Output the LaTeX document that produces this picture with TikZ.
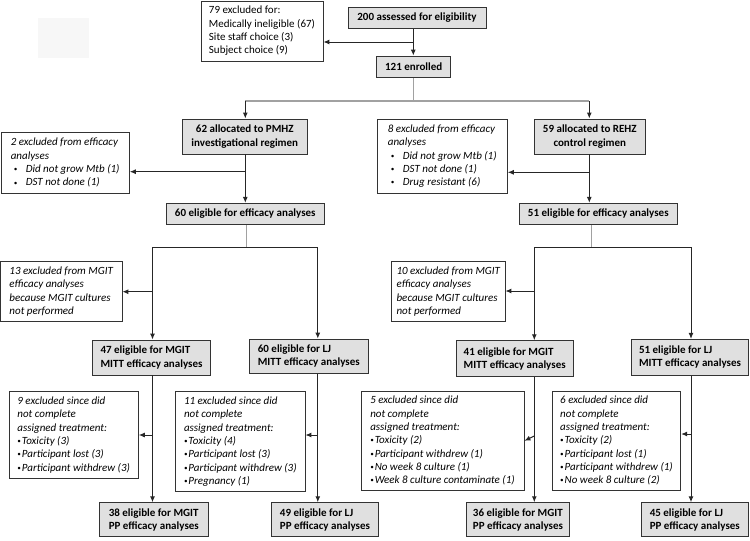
\documentclass[tikz,border=0pt]{standalone}
\usepackage{fontspec}
\setmainfont{Carlito}
\usetikzlibrary{arrows.meta}
\newcommand{\tabbul}{\makebox[15pt][l]{\hspace{3pt}\raisebox{0.8pt}{\scriptsize\textbullet}}}
\newcommand{\smbul}{\raisebox{1pt}{\scriptsize\textbullet}\hspace{1pt}}

\begin{document}
\begin{tikzpicture}[x = 1pt, y = -1pt,
  mainbox/.style = {draw = black!80, line width = 0.9pt, fill = black!12, inner sep = 2pt, font = \fontsize{11}{13.3}\selectfont\bfseries},
  exclbox/.style = {draw = black!80, line width = 0.9pt, fill = white, inner sep = 2pt, align = left, font = \fontsize{11}{13.3}\selectfont\itshape},
  arr/.style = {line width = 1pt, draw = black!85, -{Latex[length = 6pt, width = 5pt]}},
  link/.style = {line width = 1pt, draw = black!85},
  stem/.style = {line width = 1.3pt, draw = black!37}]
\useasboundingbox (0, 0) rectangle (750, 541);
\fill[black!3] (38, 18) rectangle (89, 58);
\node[mainbox, minimum width = 138pt, minimum height = 21pt] (assess) at (417, 17.8) {200 assessed for eligibility};
\node[mainbox, minimum width = 74pt, minimum height = 21.3pt] (enrolled) at (413.7, 66.7) {121 enrolled};
\node[exclbox, font = \fontsize{11}{13.3}\selectfont, minimum width = 122pt, minimum height = 60pt] (excl79) at (262, 31) {79 excluded for:\\Medically ineligible (67)\\Site staff choice (3)\\Subject choice (9)};
\node[mainbox, align = center, minimum width = 124.3pt, minimum height = 35pt] (alloc62) at (244.8, 136.5) {62 allocated to PMHZ\\investigational regimen};
\node[mainbox, align = center, minimum width = 111pt, minimum height = 35pt] (alloc59) at (589.8, 136.5) {59 allocated to REHZ\\control regimen};
\node[exclbox, minimum width = 128.3pt, minimum height = 61pt] (excl2) at (65.2, 162.8) {2 excluded from efficacy\\analyses\\\tabbul Did not grow Mtb (1)\\\tabbul DST not done (1)};
\node[exclbox, minimum width = 130pt, minimum height = 74.3pt] (excl8) at (442.3, 156.2) {8 excluded from efficacy\\analyses\\\tabbul Did not grow Mtb (1)\\\tabbul DST not done (1)\\\tabbul Drug resistant (6)};
\node[mainbox, minimum width = 157.3pt, minimum height = 21pt] (elig60) at (245.3, 213.8) {60 eligible for efficacy analyses};
\node[mainbox, minimum width = 158pt, minimum height = 21pt] (elig51) at (598.3, 213.8) {51 eligible for efficacy analyses};
\node[exclbox, minimum width = 121.5pt, minimum height = 60pt] (excl13) at (61.2, 291.7) {13 excluded from MGIT\\efficacy analyses\\because MGIT cultures\\not performed};
\node[exclbox, minimum width = 113.3pt, minimum height = 60pt] (excl10) at (448.3, 291.7) {10 excluded from MGIT\\efficacy analyses\\because MGIT cultures\\not performed};
\node[mainbox, align = left, minimum width = 118.4pt, minimum height = 35pt] (mgit47) at (151.5, 357.5) {47 eligible for MGIT\\MITT efficacy analyses};
\node[mainbox, align = left, minimum width = 119pt, minimum height = 34.3pt] (lj60) at (308.8, 356.2) {60 eligible for LJ\\MITT efficacy analyses};
\node[mainbox, align = left, minimum width = 117.3pt, minimum height = 36pt] (mgit41) at (514.7, 358.7) {41 eligible for MGIT\\MITT efficacy analyses};
\node[mainbox, align = left, minimum width = 116.6pt, minimum height = 35.7pt] (lj51) at (690, 357.2) {51 eligible for LJ\\MITT efficacy analyses};
\node[exclbox, minimum width = 129.3pt, minimum height = 86.6pt] (excl9) at (73.7, 435) {9 excluded since did\\not complete\\assigned treatment:\\\smbul Toxicity (3)\\\smbul Participant lost (3)\\\smbul Participant withdrew (3)};
\node[exclbox, minimum width = 129.3pt, minimum height = 100pt] (excl11) at (240.3, 441.7) {11 excluded since did\\not complete\\assigned treatment:\\\smbul Toxicity (4)\\\smbul Participant lost (3)\\\smbul Participant withdrew (3)\\\smbul Pregnancy (1)};
\node[exclbox, minimum width = 163pt, minimum height = 98.3pt] (excl5) at (442.5, 440.8) {5 excluded since did\\not complete\\assigned treatment:\\\smbul Toxicity (2)\\\smbul Participant withdrew (1)\\\smbul No week 8 culture (1)\\\smbul Week 8 culture contaminate (1)};
\node[exclbox, minimum width = 128.4pt, minimum height = 98.3pt] (excl6) at (616.5, 440.8) {6 excluded since did\\not complete\\assigned treatment:\\\smbul Toxicity (2)\\\smbul Participant lost (1)\\\smbul Participant withdrew (1)\\\smbul No week 8 culture (2)};
\node[mainbox, align = left, minimum width = 109pt, minimum height = 34pt] (pp38) at (153.8, 519.7) {38 eligible for MGIT\\PP efficacy analyses};
\node[mainbox, align = left, minimum width = 106.6pt, minimum height = 34pt] (pp49) at (325, 519.7) {49 eligible for LJ\\PP efficacy analyses};
\node[mainbox, align = left, minimum width = 102.6pt, minimum height = 34pt] (pp36) at (518, 519.7) {36 eligible for MGIT\\PP efficacy analyses};
\node[mainbox, align = left, minimum width = 106.3pt, minimum height = 34pt] (pp45) at (694.8, 519.7) {45 eligible for LJ\\PP efficacy analyses};
\coordinate (t1) at (413.3, 42);
\coordinate (s1) at (413.3, 101);
\coordinate (sL) at (245.3, 101);
\coordinate (sR) at (589.3, 101);
\coordinate (t2) at (245.3, 171.7);
\coordinate (t8) at (589.3, 172.3);
\coordinate (s2) at (246.7, 247.3);
\coordinate (a47) at (152.5, 247.3);
\coordinate (a60) at (317.8, 247.3);
\coordinate (t13) at (152.5, 291.7);
\coordinate (s3) at (591.7, 247.3);
\coordinate (a41) at (534.3, 247.3);
\coordinate (a51) at (691, 247.3);
\coordinate (t10) at (534.3, 291);
\coordinate (t9) at (152.5, 435);
\coordinate (t11) at (317.8, 435);
\coordinate (t5) at (534.3, 436);
\coordinate (t6) at (691, 434);
\draw[arr] (assess.south -| t1) -- (enrolled.north -| t1);
\draw[arr] (t1) -- (t1 -| excl79.east);
\draw[stem] (enrolled.south -| s1) -- (s1);
\draw[stem] (sL) -- (sR);
\draw[arr] (sL) -- (sL |- alloc62.north);
\draw[arr] (sR) -- (sR |- alloc59.north);
\draw[arr] (alloc62.south -| sL) -- (elig60.north -| sL);
\draw[arr] (t2) -- (t2 -| excl2.east);
\draw[arr] (alloc59.south -| sR) -- (elig51.north -| sR);
\draw[arr] (t8) -- (t8 -| excl8.east);
\draw[stem] (elig60.south -| s2) -- (s2);
\draw[link] (a47) -- (a60);
\draw[arr] (a47) -- (a47 |- mgit47.north);
\draw[arr] (a60) -- (a60 |- lj60.north);
\draw[arr] (t13) -- (t13 -| excl13.east);
\draw[stem] (elig51.south -| s3) -- (s3);
\draw[link] (a41) -- (a51);
\draw[arr] (a41) -- (a41 |- mgit41.north);
\draw[arr] (a51) -- (a51 |- lj51.north);
\draw[arr] (t10) -- (t10 -| excl10.east);
\draw[arr] (mgit47.south -| t9) -- (pp38.north -| t9);
\draw[arr] (t9) -- (t9 -| excl9.east);
\draw[arr] (lj60.south -| t11) -- (pp49.north -| t11);
\draw[arr] (t11) -- (t11 -| excl11.east);
\draw[arr] (mgit41.south -| t5) -- (pp36.north -| t5);
\draw[arr] (t5) -- (excl5.east);
\draw[arr] (lj51.south -| t6) -- (pp45.north -| t6);
\draw[arr] (t6) -- (t6 -| excl6.east);
\end{tikzpicture}
\end{document}
